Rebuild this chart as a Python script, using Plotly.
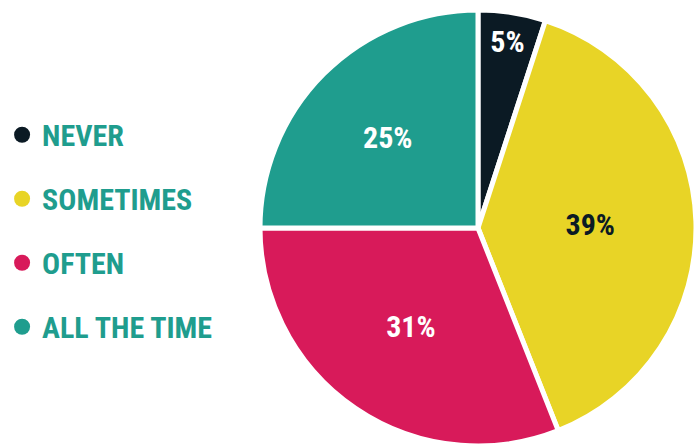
import plotly.graph_objects as go

categories = ["NEVER", "SOMETIMES", "OFTEN", "ALL THE TIME"]
values = [5, 39, 31, 25]
pct_labels = ["5%", "39%", "31%", "25%"]
colors = ["#0b1a24", "#e8d426", "#d81a5a", "#1f9d8e"]
text_colors = ["#ffffff", "#0b1a24", "#ffffff", "#ffffff"]

FONT = "Roboto Condensed, Roboto, sans-serif"

fig = go.Figure()

fig.add_trace(go.Pie(
    labels=categories,
    values=values,
    text=pct_labels,
    textinfo="text",
    textposition="inside",
    insidetextorientation="horizontal",
    textfont=dict(family=FONT, size=30, color=text_colors, weight="bold"),
    marker=dict(colors=colors, line=dict(color="#ffffff", width=5)),
    sort=False,
    direction="clockwise",
    rotation=0,
    showlegend=False,
    hoverinfo="label+percent",
    domain=dict(x=[260 / 696, 1.0], y=[2 / 448, 438 / 448]),
))

for i, (cat, col) in enumerate(zip(categories, colors)):
    fig.add_trace(go.Scatter(
        x=[None], y=[None],
        mode="markers",
        name=cat,
        legendgroup=f"g{i}",
        marker=dict(symbol="circle", size=22, color=col),
        showlegend=True,
    ))

fig.update_layout(
    width=696,
    height=448,
    margin=dict(l=0, r=0, t=0, b=0),
    paper_bgcolor="#ffffff",
    plot_bgcolor="#ffffff",
    xaxis=dict(visible=False),
    yaxis=dict(visible=False),
    legend=dict(
        x=0.003, xanchor="left",
        y=0.485, yanchor="middle",
        font=dict(family=FONT, size=30, color="#1f9d8e", weight="bold"),
        tracegroupgap=22,
        traceorder="grouped",
        itemsizing="trace",
        bgcolor="rgba(0,0,0,0)",
    ),
)

fig.write_html("out.html")
